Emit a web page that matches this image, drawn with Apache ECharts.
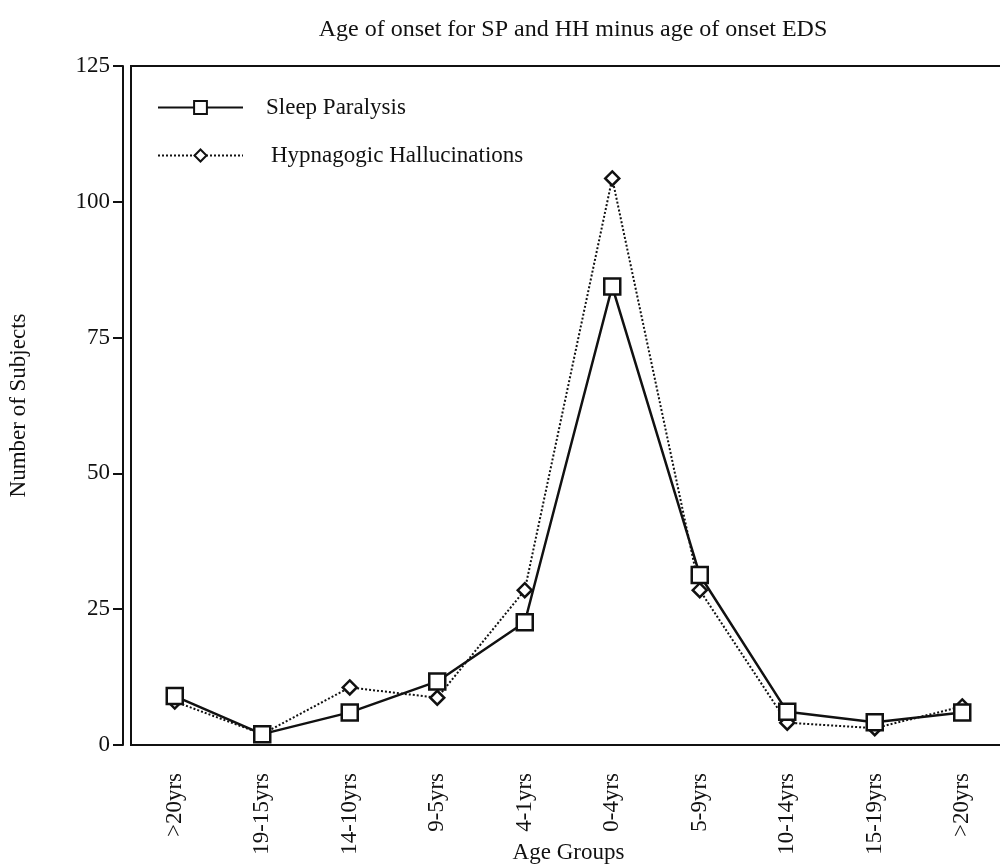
<!DOCTYPE html>
<html>
<head>
<meta charset="utf-8">
<script src="https://cdn.jsdelivr.net/npm/echarts@6/dist/echarts.min.js"></script>
<style>
  html, body { margin: 0; padding: 0; background: #fff; }
  #chart { width: 1000px; height: 865px; }
</style>
</head>
<body>
<div id="chart"></div>
<script>
  // age groups (onset SP/HH minus onset EDS)
  var ageGroups = ['>20yrs', '19-15yrs', '14-10yrs', '9-5yrs', '4-1yrs', '0-4yrs', '5-9yrs', '10-14yrs', '15-19yrs', '>20yrs'];
  var sleepParalysis = [9, 2, 6, 11.7, 22.6, 84.4, 31.3, 6.1, 4.2, 6];
  var hypnHalluc = [8, 2, 10.6, 8.7, 28.5, 104.3, 28.5, 4.1, 3.1, 7.1];
  var yTicks = [0, 25, 50, 75, 100, 125];

  var ink = '#111';
  var serif = '"Liberation Serif", "DejaVu Serif", serif';
  var fs = 23;

  var chart = echarts.init(document.getElementById('chart'));
  chart.setOption({
    backgroundColor: '#fff',
    animation: false,
    textStyle: { fontFamily: serif, color: ink },
    title: {
      text: 'Age of onset for SP and HH minus age of onset EDS',
      left: 568, top: 13, textAlign: 'center',
      textStyle: { fontFamily: serif, fontSize: 24, fontWeight: 'normal', color: ink }
    },
    legend: [
      {
        data: ['Sleep Paralysis'],
        left: 152, top: 91,
        itemWidth: 85, itemHeight: 16, itemGap: 0,
        textStyle: { fontFamily: serif, fontSize: fs, color: ink, padding: [0, 0, 0, 18] }
      },
      {
        data: ['Hypnagogic Hallucinations'],
        left: 152, top: 139,
        itemWidth: 85, itemHeight: 15, itemGap: 0,
        textStyle: { fontFamily: serif, fontSize: fs, color: ink, padding: [0, 0, 0, 23] }
      }
    ],
    grid: {
      left: 131, top: 66, width: 875, height: 679,
      containLabel: false, outerBoundsMode: 'none',
      show: true, borderColor: ink, borderWidth: 2, backgroundColor: 'transparent'
    },
    xAxis: {
      type: 'category',
      data: ageGroups,
      boundaryGap: true,
      name: 'Age Groups',
      nameLocation: 'middle',
      nameGap: 96,
      nameMoveOverlap: false,
      nameTextStyle: { fontFamily: serif, fontSize: fs, color: ink },
      axisLine: { lineStyle: { color: ink, width: 2 } },
      axisTick: { alignWithLabel: true, length: 11, lineStyle: { color: ink, width: 2 } },
      axisLabel: { rotate: 90, margin: 28, fontFamily: serif, fontSize: fs, color: ink, interval: 0 }
    },
    yAxis: {
      type: 'value',
      min: 0, max: 125, interval: 25,
      offset: 8,
      name: 'Number of Subjects',
      nameLocation: 'middle',
      nameGap: 93,
      nameMoveOverlap: false,
      nameRotate: 90,
      nameTextStyle: { fontFamily: serif, fontSize: fs, color: ink },
      axisLine: { show: true, lineStyle: { color: ink, width: 2 } },
      axisTick: { show: true, length: 10, lineStyle: { color: ink, width: 2 } },
      axisLabel: {
        margin: 13, fontFamily: serif, fontSize: fs, color: ink,
        formatter: function (v) { return yTicks.indexOf(v) >= 0 ? String(v) : ''; }
      },
      splitLine: { show: false }
    },
    series: [
      {
        name: 'Hypnagogic Hallucinations',
        type: 'line',
        data: hypnHalluc,
        symbol: 'diamond',
        symbolSize: 14,
        lineStyle: { color: ink, width: 2, type: [2, 2] },
        itemStyle: { color: '#fff', borderColor: ink, borderWidth: 2.5 },
        z: 2
      },
      {
        name: 'Sleep Paralysis',
        type: 'line',
        data: sleepParalysis,
        symbol: 'rect',
        symbolSize: 16,
        lineStyle: { color: ink, width: 2.5 },
        itemStyle: { color: '#fff', borderColor: ink, borderWidth: 2.5 },
        z: 3
      }
    ]
  });
</script>
</body>
</html>
